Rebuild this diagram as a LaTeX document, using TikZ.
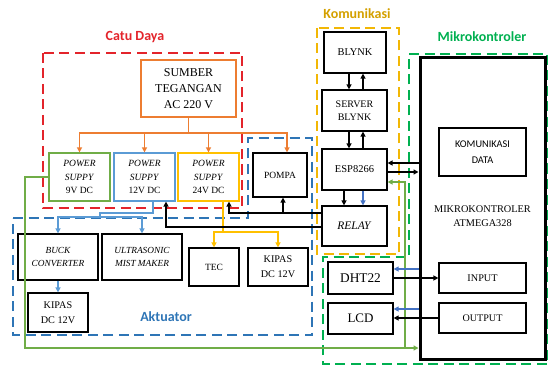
\documentclass[tikz,border=0pt]{standalone}
\usepackage{fontspec}
\setmainfont{Liberation Serif}
\newfontfamily\carl{Carlito}
\usetikzlibrary{arrows.meta,calc}
\definecolor{cRed}{HTML}{E3242B}
\definecolor{cOr}{HTML}{ED7D31}
\definecolor{cGr}{HTML}{70AD47}
\definecolor{cBl}{HTML}{5B9BD5}
\definecolor{cYe}{HTML}{FFC000}
\definecolor{cAk}{HTML}{2E75B6}
\definecolor{cKo}{HTML}{F2B705}
\definecolor{cKoT}{HTML}{D4A000}
\definecolor{cMk}{HTML}{00B050}
\definecolor{cDb}{HTML}{4472C4}
\begin{document}
\begin{tikzpicture}[x=1pt,y=-1pt,
  blk/.style={draw, line width=1.2pt, inner sep=0pt, align=center, fill=white},
  region/.style={line width=2.3pt, dash pattern=on 10pt off 5.5pt},
  lab/.style={font=\carl\bfseries\fontsize{14}{16}\selectfont},
  arr/.style={-{Triangle[length=5pt,width=5pt]}},
  con/.style={line width=1.3pt}]
\useasboundingbox (0,0) rectangle (548,366);
% regions
\draw[region, cRed] (43,53) rectangle (242,208);
\draw[region, cAk] (13,218) -- (248,218) -- (248,138) -- (312,138) -- (312,335) -- (13,335) -- cycle;
\draw[region, cKo] (317,28) rectangle (399,254);
\draw[region, cMk] (409,54) -- (547.5,54) -- (547.5,364) -- (323,364) -- (323,257) -- (409,257) -- cycle;
% labels
\node[lab, text=cRed] (tcatu) at (135,37) {Catu Daya};
\node[lab, text=cAk] (takt) at (166,317) {Aktuator};
\node[lab, text=cKoT] (tkom) at (357,14) {Komunikasi};
\node[lab, text=cMk] (tmk) at (482,37) {Mikrokontroler};
% boxes
\node[blk, draw=cOr, minimum width=95pt, minimum height=57pt, font=\fontsize{12}{16}\selectfont] (sumber) at (188.5,88.5) {SUMBER\\TEGANGAN\\AC 220 V};
\node[blk, draw=cGr, minimum width=61pt, minimum height=48pt, font=\fontsize{9.5}{13.5}\selectfont] (ps9) at (79.5,177) {\textit{POWER}\\\textit{SUPPY}\\9V DC};
\node[blk, draw=cBl, minimum width=61pt, minimum height=48pt, font=\fontsize{9.5}{13.5}\selectfont] (ps12) at (144.5,177) {\textit{POWER}\\\textit{SUPPY}\\12V DC};
\node[blk, draw=cYe, minimum width=61pt, minimum height=48pt, font=\fontsize{9.5}{13.5}\selectfont] (ps24) at (208.5,177) {\textit{POWER}\\\textit{SUPPY}\\24V DC};
\node[blk, minimum width=54pt, minimum height=44pt, font=\fontsize{9.5}{12}\selectfont] (pompa) at (280,175) {POMPA};
\node[blk, minimum width=62pt, minimum height=41pt, font=\fontsize{10.4}{13}\selectfont] (blynk) at (355,52.5) {BLYNK};
\node[blk, minimum width=65pt, minimum height=41pt, font=\fontsize{10}{13}\selectfont] (server) at (354.5,110.5) {SERVER\\BLYNK};
\node[blk, minimum width=65pt, minimum height=41pt, font=\fontsize{10.5}{13}\selectfont] (esp) at (354.5,169.5) {ESP8266};
\node[blk, minimum width=65pt, minimum height=40pt, font=\fontsize{11.5}{13}\selectfont] (relay) at (354.5,226) {\textit{RELAY}};
\node[blk, line width=3pt, minimum width=125pt, minimum height=301pt, fill=none] (mcu) at (482.5,208.5) {};
\node[font=\fontsize{10.3}{13.3}\selectfont, align=center] (mcut) at (482.5,216) {MIKROKONTROLER\\ATMEGA328};
\node[blk, minimum width=87pt, minimum height=48pt, font=\carl\fontsize{10.3}{16.5}\selectfont] (kom) at (482.5,152) {KOMUNIKASI\\DATA};
\node[blk, minimum width=87pt, minimum height=30pt, font=\fontsize{10.2}{12}\selectfont] (input) at (482.5,278) {INPUT};
\node[blk, minimum width=87pt, minimum height=30pt, font=\fontsize{10.1}{12}\selectfont] (output) at (482.5,318) {OUTPUT};
\node[blk, minimum width=65pt, minimum height=32pt, font=\fontsize{13.3}{15}\selectfont] (dht) at (360.5,278) {DHT22};
\node[blk, minimum width=65pt, minimum height=31pt, font=\fontsize{13}{15}\selectfont] (lcd) at (360.5,318.5) {LCD};
\node[blk, minimum width=80pt, minimum height=46pt, font=\itshape\fontsize{9.3}{13}\selectfont] (buck) at (58,257) {BUCK\\CONVERTER};
\node[blk, minimum width=80pt, minimum height=46pt, font=\itshape\fontsize{9.3}{13}\selectfont] (ultra) at (142,257) {ULTRASONIC\\MIST MAKER};
\node[blk, minimum width=60pt, minimum height=39pt, font=\fontsize{10.2}{15}\selectfont] (kipas1) at (58,312.5) {KIPAS\\DC 12V};
\node[blk, minimum width=50pt, minimum height=38pt, font=\fontsize{9.5}{12}\selectfont] (tec) at (214,267) {TEC};
\node[blk, minimum width=60pt, minimum height=38pt, font=\fontsize{10.2}{15}\selectfont] (kipas2) at (278,267) {KIPAS\\DC 12V};
% orange power distribution
\coordinate (ob) at (188.5,133);
\coordinate (opo) at ([xshift=7pt]pompa.north);
\draw[con, cOr] (sumber.south) -- (ob);
\draw[con, cOr] (ps9.north |- ob) -- (opo |- ob);
\draw[con, cOr, arr] (ob) -| (ps9.north);
\draw[con, cOr, arr] (ob) -| (ps12.north);
\draw[con, cOr, arr] (ob) -| (ps24.north);
\draw[con, cOr, arr] (ob) -| (opo);
% green 9V
\coordinate (gc) at (25,348);
\coordinate (gb) at (405,348);
\draw[con, cGr, arr] (ps9.west) -| (gc) -- (mcu.west |- gc);
\draw[con, cGr, arr] (gb) |- ([yshift=-12.5pt]esp.east);
% blue 12V
\coordinate (b1) at ([xshift=8.5pt]ps12.south);
\coordinate (bj) at (100,217);
\coordinate (bk) at (100,213);
\draw[con, cBl] (b1) |- (bk) -- (bj);
\draw[con, cBl, arr] (bj) -| (buck.north);
\draw[con, cBl, arr] (bj) -| (ultra.north);
\draw[con, cBl, arr] (buck.south) -- (kipas1.north);
% yellow 24V
\coordinate (y0) at ([xshift=14.5pt]ps24.south);
\coordinate (yj) at (223,232);
\draw[con, cYe] (y0) -- (yj);
\draw[con, cYe, arr] (yj) -| (tec.north);
\draw[con, cYe, arr] (yj) -| (kipas2.north);
% relay controls
\coordinate (r1) at ([yshift=13pt]relay.west);
\coordinate (r2) at ([yshift=-1pt]relay.west);
\coordinate (pa) at ([xshift=3pt]pompa.south);
\draw[con, arr] (r1) -| ([xshift=20.5pt]ps24.south);
\draw[con, arr] (pa |- r1) -- (pa);
\draw[con, arr] (r2) -| ([xshift=21.5pt]ps12.south);
% komunikasi chain
\draw[con, arr] ([xshift=-6pt]blynk.south) -- ([xshift=-5.5pt]server.north);
\draw[con, arr] ([xshift=8.5pt]server.north) -- ([xshift=8pt]blynk.south);
\draw[con, arr] ([xshift=-5.5pt]server.south) -- ([xshift=-5.5pt]esp.north);
\draw[con, arr] ([xshift=8.5pt]esp.north) -- ([xshift=8.5pt]server.south);
\draw[con, arr] ([xshift=-10.5pt]esp.south) -- ([xshift=-10.5pt]relay.north);
\draw[con, cDb, arr] ([xshift=8.5pt]esp.south) -- ([xshift=8.5pt]relay.north);
% esp <-> mcu
\coordinate (e1) at ([yshift=6.5pt]esp.east);
\coordinate (e2) at ([yshift=-2.5pt]esp.east);
\draw[con, arr] (mcu.west |- e1) -- (e1);
\draw[con, arr] (e2) -- (mcu.west |- e2);
% sensors
\coordinate (d1) at ([yshift=9pt]dht.east);
\coordinate (l1) at ([yshift=9.5pt]lcd.east);
\draw[con, cDb, arr] (mcu.west |- d1) -- (d1);
\draw[con, cDb, arr] (mcu.west |- l1) -- (l1);
\draw[con, arr] (dht.east) -- (input.west);
\draw[con, arr] (output.west) -- (lcd.east |- output.west);
\end{tikzpicture}
\end{document}
